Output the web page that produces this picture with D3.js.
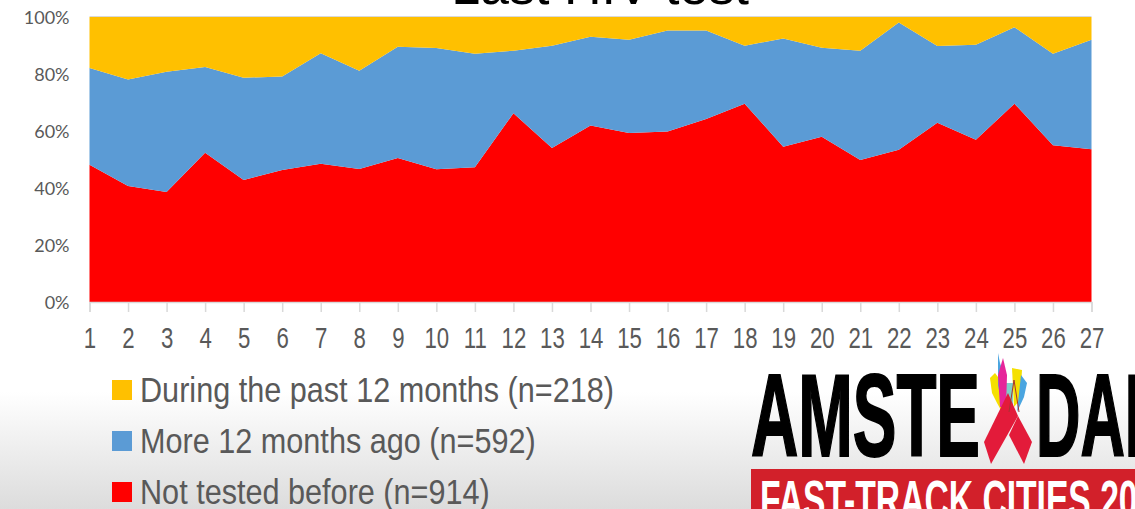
<!DOCTYPE html>
<html>
<head>
<meta charset="utf-8">
<script src="https://cdn.jsdelivr.net/npm/d3@7"></script>
<style>
  html, body { margin: 0; padding: 0; background: #fff; overflow: hidden; }
  svg { display: block; }
</style>
</head>
<body>
<script>
const categories = d3.range(1, 28);
const notTested = [48.2, 40.7, 38.6, 52.4, 42.8, 46.3, 48.5, 46.7, 50.5, 46.6, 47.3, 66.2, 54.0, 61.9, 59.3, 59.8, 64.2, 69.6, 54.5, 58.0, 49.8, 53.4, 62.9, 56.9, 69.6, 55.0, 53.6];
const moreAgo = [33.9, 37.4, 42.2, 30.1, 35.9, 32.8, 38.8, 34.4, 39.1, 42.5, 39.8, 22.0, 35.9, 31.2, 32.7, 35.5, 31.1, 20.3, 38.0, 31.2, 38.4, 44.7, 26.9, 33.4, 26.8, 32.1, 38.4];
const past12 = [17.9, 21.9, 19.2, 17.5, 21.3, 20.9, 12.7, 18.9, 10.4, 10.9, 12.9, 11.8, 10.1, 6.9, 8.0, 4.7, 4.7, 10.1, 7.5, 10.8, 11.8, 1.9, 10.2, 9.7, 3.6, 12.9, 8.0];
const seriesKeys = ['notTested', 'moreAgo', 'past12'];
const seriesColors = ['#ff0000', '#5b9bd5', '#ffc000'];
const legendLabels = ['During the past 12 months (n=218)', 'More 12 months ago (n=592)', 'Not tested before (n=914)'];
const legendColors = ['#ffc000', '#5b9bd5', '#ff0000'];
const yTicks = [0, 20, 40, 60, 80, 100];

const w = 1135;
const h = 509;
const sans = '"Liberation Sans", sans-serif';

const svg = d3.select('body').append('svg').attr('width', w).attr('height', h);

const grad = svg.append('defs').append('linearGradient')
  .attr('id', 'bg').attr('x1', 0).attr('x2', 0).attr('y1', 0).attr('y2', 1);
grad.append('stop').attr('offset', '77%').attr('stop-color', '#ffffff');
grad.append('stop').attr('offset', '100%').attr('stop-color', '#dcdcdc');
svg.append('rect').attr('width', w).attr('height', h).attr('fill', 'url(#bg)');

// title is cut off by the top of the slide
svg.append('text')
  .attr('x', 600).attr('y', 4)
  .attr('text-anchor', 'middle')
  .attr('font-family', sans)
  .attr('font-size', 52)
  .attr('fill', '#000')
  .text('Last HIV test');

const xScale = d3.scalePoint().domain(categories).range([89.5, 1091.5]);
const yScale = d3.scaleLinear().domain([0, 100]).range([302, 17]);

const table = categories.map((c, i) => ({
  cat: c,
  notTested: notTested[i],
  moreAgo: moreAgo[i],
  past12: past12[i]
}));
const stacked = d3.stack().keys(seriesKeys)(table);

const area = d3.area()
  .x(d => xScale(d.data.cat))
  .y0(d => yScale(d[0]))
  .y1(d => yScale(d[1]));

// top border of the plot
svg.append('line')
  .attr('x1', 89.5).attr('x2', 1091.5)
  .attr('y1', yScale(100) - 0.5).attr('y2', yScale(100) - 0.5)
  .attr('stroke', '#d9d9d9');

svg.selectAll('path.layer')
  .data(stacked)
  .enter()
  .append('path')
  .attr('class', 'layer')
  .attr('d', area)
  .attr('fill', (d, i) => seriesColors[i]);

const xAxis = svg.append('g')
  .attr('transform', 'translate(0,302)')
  .call(d3.axisBottom(xScale).tickSize(10).tickPadding(0));
xAxis.select('.domain').attr('stroke', '#d9d9d9').attr('stroke-width', 1.5);
xAxis.selectAll('.tick line').attr('stroke', '#d9d9d9').attr('stroke-width', 1.5);
// the slide squeezes these labels sideways
xAxis.selectAll('.tick text')
  .attr('y', 46)
  .attr('dy', 0)
  .attr('transform', 'scale(0.74,1)')
  .attr('font-family', sans)
  .attr('font-size', 30)
  .attr('fill', '#595959');

const yAxis = svg.append('g')
  .attr('transform', 'translate(89.5,1)')
  .call(d3.axisLeft(yScale).tickValues(yTicks).tickFormat(d => d + '%').tickSize(0).tickPadding(20));
yAxis.select('.domain').remove();
yAxis.selectAll('.tick text')
  .attr('font-family', 'Lato, sans-serif')
  .attr('font-size', 18)
  .attr('fill', '#595959');

const legend = svg.selectAll('g.legend')
  .data(legendLabels)
  .enter()
  .append('g')
  .attr('class', 'legend')
  .attr('transform', (d, i) => `translate(112,${380 + i * 51})`);
legend.append('rect')
  .attr('width', 20).attr('height', 20)
  .attr('fill', (d, i) => legendColors[i]);
legend.append('text')
  .attr('transform', 'translate(28,21.5) scale(0.875,1)')
  .attr('font-family', sans)
  .attr('font-size', 35)
  .attr('fill', '#595959')
  .text(d => d);

// conference logo, bottom right
const logo = svg.append('g');
const bigWord = (txt, x, len) => logo.append('text')
  .attr('x', x).attr('y', 456)
  .attr('font-family', sans)
  .attr('font-weight', 'bold')
  .attr('font-size', 116)
  .attr('textLength', len)
  .attr('lengthAdjust', 'spacingAndGlyphs')
  .attr('stroke', '#000')
  .attr('stroke-width', 2)
  .attr('fill', '#000')
  .text(txt);
bigWord('AMSTE', 751, 229);
bigWord('DAM', 1036, 140);

const shapes = [
  ['#f5e000', '990,378 995,373 998,377 1002,412 997,403 992,393'],
  ['#f5e000', '1012,368 1022,370 1020,400 1014,407'],
  ['#4aa5e0', '998,353 1000,363 1004,375 1003,410 998,385'],
  ['#4aa5e0', '1021,375 1027,383 1024,397 1017,412'],
  ['#7fd0c8', '1005,383 1013,383 1013,405 1005,405'],
  ['#e6259a', '1003,358 1007,375 1006,407 1000,407 998,375'],
  ['#e31b3a', '1008,393 1018,416 991,464 984,442'],
  ['#e31b3a', '1018,416 1032,442 1024,464 1009,435']
];
logo.selectAll('polygon')
  .data(shapes)
  .enter()
  .append('polygon')
  .attr('points', d => d[1])
  .attr('fill', d => d[0]);
logo.append('polyline')
  .attr('points', '1009,412 1014,380 1019,412')
  .attr('fill', 'none')
  .attr('stroke', '#a83232')
  .attr('stroke-width', 1);

logo.append('rect')
  .attr('x', 751).attr('y', 469).attr('width', 384).attr('height', 40)
  .attr('fill', '#d2202a');
logo.append('text')
  .attr('x', 760).attr('y', 518)
  .attr('font-family', sans)
  .attr('font-weight', 'bold')
  .attr('font-size', 53)
  .attr('textLength', 415)
  .attr('lengthAdjust', 'spacingAndGlyphs')
  .attr('fill', '#fff')
  .text('FAST-TRACK CITIES 2017');
</script>
</body>
</html>
